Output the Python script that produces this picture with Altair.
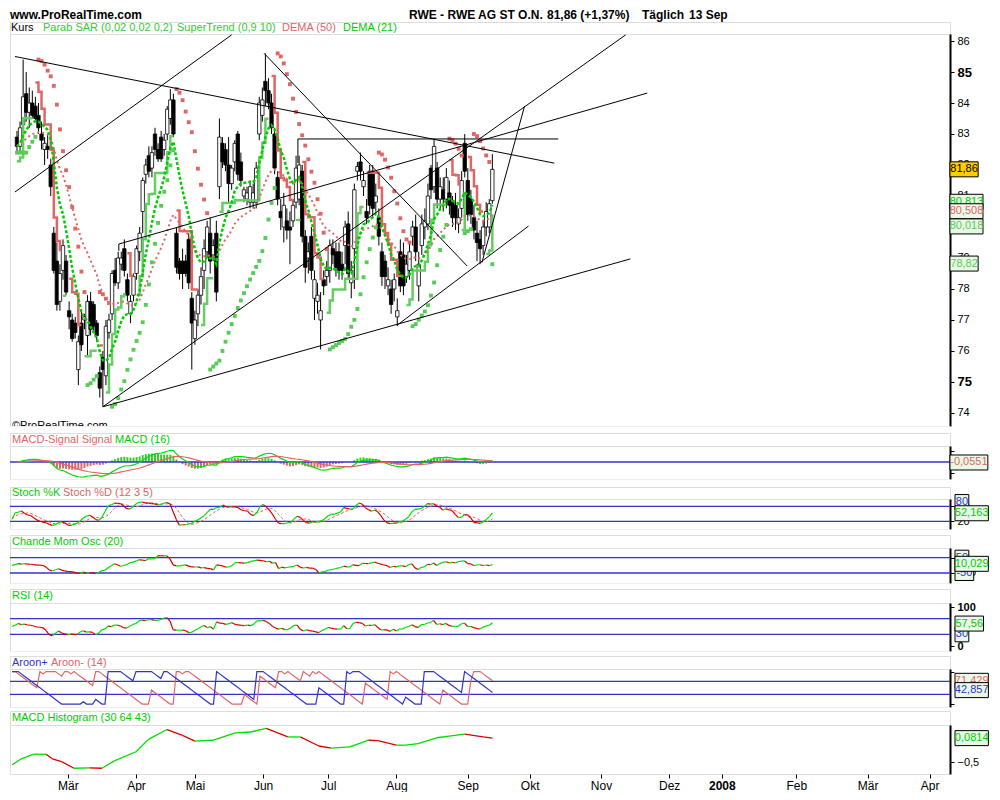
import altair as alt
import numpy as np
import pandas as pd

# ----------------------------------------------------------------- data
# RWE daily candles, 5 Feb 2007 .. 13 Sep 2007 (one entry per trading day)
OPEN = [82.9, 82.6, 83.3, 84.3, 83.7, 84.0, 83.9, 83.6, 83.0, 82.5,
        82.6, 82.0, 79.8, 78.9, 77.6, 78.6, 78.9, 77.3, 77.0, 76.9,
        75.4, 76.9, 77.0, 76.5, 77.6, 77.5, 76.9, 75.3, 75.8, 75.2,
        76.6, 77.2, 78.6, 78.2, 78.8, 79.3, 78.3, 77.2, 77.8, 78.5,
        79.2, 80.5, 81.7, 82.3, 81.9, 83.0, 82.5, 82.9, 82.5, 83.0,
        83.5, 84.1, 79.8, 78.9, 78.9, 78.9, 79.6, 77.7, 76.4, 77.2,
        77.8, 78.6, 79.2, 79.8, 79.1, 79.8, 81.3, 82.7, 82.5, 82.0,
        81.4, 82.1, 83.0, 82.1, 81.0, 80.9, 80.8, 80.8, 80.8, 83.0,
        83.6, 84.7, 84.4, 84.0, 83.0, 81.6, 80.5, 80.0, 80.2, 80.0,
        80.2, 80.8, 80.9, 81.8, 79.7, 79.0, 79.7, 77.7, 77.6, 77.0,
        78.3, 78.4, 78.6, 79.3, 79.2, 79.2, 78.8, 79.4, 80.1, 78.2,
        79.3, 81.8, 82.1, 81.3, 80.5, 81.8, 81.8, 80.8, 80.3, 79.2,
        78.9, 78.1, 78.0, 78.0, 77.1, 79.2, 79.1, 78.4, 78.6, 79.7,
        80.0, 78.1, 79.4, 80.0, 80.1, 81.9, 81.3, 81.9, 80.9, 81.2,
        80.9, 81.1, 80.8, 80.7, 80.1, 80.6, 82.7, 81.5, 80.9, 80.3,
        79.8, 79.6, 79.4, 80.0, 80.0, 80.85]
HIGH = [83.1, 83.4, 85.4, 85.0, 84.5, 84.4, 84.2, 84.0, 83.4, 82.9,
        83.0, 82.2, 80.0, 79.5, 78.8, 79.6, 79.1, 77.6, 77.2, 77.1,
        76.5, 77.3, 77.2, 77.8, 77.9, 77.6, 77.0, 75.5, 76.0, 77.0,
        77.2, 78.6, 79.0, 79.2, 79.2, 79.6, 78.5, 77.8, 78.5, 79.4,
        80.0, 81.6, 82.2, 82.6, 82.6, 83.2, 82.7, 83.1, 83.0, 83.9,
        84.45, 84.3, 80.0, 79.0, 79.3, 79.1, 79.8, 77.9, 77.3, 78.0,
        78.7, 79.6, 80.2, 80.3, 79.6, 80.2, 83.5, 82.9, 82.7, 82.9,
        82.0, 82.8, 83.1, 82.4, 81.3, 81.3, 81.5, 81.4, 82.1, 84.2,
        84.5, 85.6, 84.8, 84.3, 83.2, 81.8, 80.9, 81.1, 80.6, 80.5,
        80.9, 82.3, 82.3, 82.0, 79.9, 79.5, 80.0, 78.6, 78.2, 77.9,
        78.6, 78.9, 79.6, 79.6, 79.5, 79.5, 79.2, 80.2, 80.5, 78.9,
        81.4, 82.1, 82.4, 81.8, 80.9, 82.0, 82.0, 81.4, 80.6, 79.5,
        79.1, 78.7, 78.3, 78.5, 77.7, 79.6, 79.5, 79.1, 79.5, 80.2,
        80.4, 79.2, 80.4, 80.6, 81.4, 82.0, 82.85, 82.1, 81.6, 81.6,
        81.9, 81.5, 81.0, 81.1, 80.6, 81.8, 83.0, 81.9, 81.2, 80.7,
        80.2, 79.9, 80.2, 80.8, 80.9, 82.35]
LOW = [82.4, 82.4, 83.2, 83.4, 83.2, 83.5, 83.4, 83.0, 82.5, 82.0,
       82.2, 81.0, 78.5, 77.3, 77.3, 78.3, 77.8, 76.7, 76.3, 76.4,
       74.9, 76.0, 76.7, 75.8, 76.5, 76.6, 76.3, 74.5, 74.2, 74.9,
       76.4, 77.0, 78.1, 78.0, 78.6, 78.4, 77.6, 76.9, 77.6, 78.3,
       78.9, 79.8, 81.4, 81.6, 81.6, 82.3, 82.1, 82.1, 82.3, 82.8,
       83.3, 82.9, 78.5, 78.3, 78.0, 78.4, 78.0, 75.4, 76.2, 76.8,
       77.5, 78.0, 79.0, 78.5, 78.9, 77.6, 80.9, 81.9, 81.8, 80.8,
       81.2, 81.8, 81.5, 81.3, 80.8, 80.7, 80.6, 80.6, 80.6, 82.8,
       83.4, 83.9, 83.8, 83.0, 81.7, 80.7, 79.9, 79.5, 79.6, 78.8,
       80.0, 80.6, 80.7, 79.5, 78.2, 78.5, 78.3, 77.0, 77.2, 76.05,
       77.8, 78.1, 78.2, 78.8, 78.4, 78.3, 78.3, 78.8, 78.3, 77.7,
       78.0, 81.5, 81.5, 81.0, 80.1, 80.4, 80.3, 80.5, 79.4, 78.1,
       78.0, 77.8, 77.2, 77.6, 76.8, 77.9, 77.8, 78.2, 78.3, 79.4,
       78.9, 77.6, 79.1, 79.6, 79.9, 80.9, 81.1, 80.6, 80.6, 80.5,
       80.6, 80.4, 80.0, 79.9, 79.8, 80.3, 81.6, 80.2, 80.1, 79.6,
       78.9, 78.8, 79.1, 79.7, 79.8, 80.75]
CLOSE = [82.6, 83.2, 84.2, 83.7, 84.0, 83.6, 83.5, 83.2, 82.8, 82.7,
         82.5, 81.3, 78.6, 77.5, 78.5, 79.4, 77.9, 77.1, 76.4, 76.6,
         76.3, 76.2, 77.1, 77.6, 76.7, 76.8, 76.5, 74.8, 75.4, 76.8,
         77.0, 78.5, 78.2, 79.0, 79.0, 78.6, 77.8, 77.6, 78.4, 79.3,
         79.8, 81.5, 82.0, 81.8, 82.4, 82.5, 82.2, 82.2, 82.8, 83.8,
         84.1, 83.0, 78.7, 78.5, 78.5, 78.5, 78.2, 76.9, 77.0, 77.8,
         78.4, 79.3, 80.0, 78.9, 79.4, 77.9, 82.9, 82.1, 82.0, 81.4,
         81.9, 82.7, 81.7, 81.5, 81.2, 81.1, 81.3, 81.1, 81.9, 84.0,
         84.1, 84.4, 84.0, 83.2, 81.9, 80.9, 80.3, 80.7, 79.9, 79.9,
         80.7, 81.9, 82.0, 79.7, 78.7, 79.2, 78.6, 78.3, 77.8, 77.3,
         78.1, 78.6, 79.4, 79.1, 78.7, 78.6, 78.6, 80.0, 78.5, 78.6,
         81.2, 81.95, 81.8, 81.5, 80.3, 80.7, 80.6, 81.0, 79.7, 78.4,
         78.4, 78.3, 77.5, 78.3, 77.3, 78.1, 78.1, 78.8, 79.2, 80.0,
         79.2, 78.8, 80.1, 80.2, 81.0, 81.2, 82.6, 80.9, 81.3, 80.9,
         81.6, 80.7, 80.3, 80.3, 80.3, 81.5, 81.8, 80.4, 80.4, 79.9,
         79.5, 79.3, 80.0, 80.5, 80.75, 81.86]

# month ticks: bar index of the first trading day of each month, and labels
MONTH_IDX = [18, 40, 59, 81, 102, 124, 147, 167, 190, 212, 229, 253, 276, 296]
MONTH_LAB = ["Mär", "Apr", "Mai", "Jun", "Jul", "Aug", "Sep", "Okt", "Nov",
             "Dez", "2008", "Feb", "Mär", "Apr"]
PRICE_TICKS = [74, 75, 76, 77, 78, 79, 80, 81, 82, 83, 84, 85, 86]

# hand-drawn trend lines (bar index, price) -> (bar index, price)
TL_I1 = [-0.65, -0.65, 28.0, 28.0, 33.2, 33.2, 80.6, 124.2, 91.6, 91.6, 151.6]
TL_P1 = [85.50, 81.13, 74.2, 74.2, 79.45, 79.45, 85.6, 76.85, 82.84, 82.84, 78.85]
TL_I2 = [175.2, 70.0, 198.5, 200.0, 205.5, 33.2, 146.8, 166.8, 176.5, 91.6, 165.5]
TL_P2 = [82.06, 86.2, 86.2, 78.97, 84.32, 79.23, 78.74, 80.03, 82.84, 82.06, 83.9]

# MACD Histogram (30 64 43)
HIST_I = [0, 3, 7, 11, 13, 16, 20, 25, 29, 33, 40, 44, 50, 55, 59, 65, 72, 77,
          82, 89, 93, 99, 103, 109, 115, 118, 124, 127, 131, 137, 141, 146, 152, 155]
HIST_V = [-0.57, -0.42, -0.31, -0.31, -0.42, -0.49, -0.65, -0.64, -0.65, -0.47,
          -0.25, 0.05, 0.29, 0.15, 0.01, 0.03, 0.21, 0.23, 0.32, 0.11, 0.11,
          -0.11, -0.16, -0.13, 0.03, 0.02, -0.09, -0.09, -0.05, 0.09, 0.13,
          0.18, 0.11, 0.08]

# last-value boxes on the right of each panel (value, text)
MAIN_BOX_V = [80.813, 80.508, 80.018, 78.82, 81.86]
MAIN_BOX_T = ["80,813", "80,508", "80,018", "78,82", "81,86"]
MACD_BOX_V = [-0.0551]
MACD_BOX_T = ["-0,0551"]
STOCH_BOX_V = [97.0, 52.163]
STOCH_BOX_T = ["80", "52,163"]
CMO_BOX_V = [50.0, -50.0, 10.029]
CMO_BOX_T = ["50", "-50", "10,029"]
RSI_BOX_V = [30.0, 57.56]
RSI_BOX_T = ["30", "57,56"]
AROON_BOX_V = [71.429, 42.857]
AROON_BOX_T = ["71,429", "42,857"]
HIST_BOX_V = [0.0814]
HIST_BOX_T = ["0,0814"]

# ----------------------------------------------------------------- style
FONT = "Liberation Sans"
BG = "#eaf9e7"
RED = "#e06666"
GRN = "#00cc00"
LGRN = "#55cc55"
BLUE = "#3333cc"
UPC = "#00dd00"
DNC = "#dd0000"
W = 940
X0, X1 = -0.65, 302.6
PX = W / (X1 - X0)

o = np.array(OPEN); h = np.array(HIGH); l = np.array(LOW); c = np.array(CLOSE)
n = len(c)
idx = np.arange(n)
cs = pd.Series(c)


def ema(s, span):
    return s.ewm(span=span, adjust=False).mean()


def dema(s, p):
    e1 = ema(s, p)
    return 2 * e1 - ema(e1, p)


def psar(hh, ll, a0=0.02, st=0.02, amax=0.2):
    out = np.zeros(len(hh)); up = np.zeros(len(hh), bool)
    trend = True; sar = ll[0]; ep = hh[0]; af = a0
    out[0] = sar; up[0] = True
    for i in range(1, len(hh)):
        sar = sar + af * (ep - sar)
        if trend:
            sar = min(sar, ll[i - 1], ll[max(i - 2, 0)])
            if ll[i] < sar:
                trend = False; sar = ep; ep = ll[i]; af = a0
            elif hh[i] > ep:
                ep = hh[i]; af = min(af + st, amax)
        else:
            sar = max(sar, hh[i - 1], hh[max(i - 2, 0)])
            if hh[i] > sar:
                trend = True; sar = ep; ep = hh[i]; af = a0
            elif ll[i] < ep:
                ep = ll[i]; af = min(af + st, amax)
        out[i] = sar; up[i] = trend
    return out, up


def supertrend(hh, ll, cc, mult=0.9, period=10):
    pc = np.r_[cc[0], cc[:-1]]
    tr = np.maximum(hh - ll, np.maximum(np.abs(hh - pc), np.abs(ll - pc)))
    atr = pd.Series(tr).ewm(alpha=1 / period, adjust=False).mean().values
    mid = (hh + ll) / 2
    bu = mid + mult * atr; bl = mid - mult * atr
    fu = bu.copy(); fl = bl.copy()
    stv = np.zeros(len(cc)); up = np.zeros(len(cc), bool)
    trend = True
    for i in range(len(cc)):
        if i > 0:
            fu[i] = bu[i] if (bu[i] < fu[i - 1] or cc[i - 1] > fu[i - 1]) else fu[i - 1]
            fl[i] = bl[i] if (bl[i] > fl[i - 1] or cc[i - 1] < fl[i - 1]) else fl[i - 1]
            if trend and cc[i] < fl[i]:
                trend = False
            elif (not trend) and cc[i] > fu[i]:
                trend = True
        stv[i] = fl[i] if trend else fu[i]
        up[i] = trend
    return stv, up


# indicators computed from the candles
sar, sar_up = psar(h, l)
st, st_up = supertrend(h, l, c)
d50 = dema(cs, 50).values
d21 = dema(cs, 21).values
macd = (ema(cs, 12) - ema(cs, 26))
sig = ema(macd, 16)
mh = (macd - sig).values
macd = macd.values; sig = sig.values
hh12 = pd.Series(h).rolling(12, min_periods=1).max()
ll12 = pd.Series(l).rolling(12, min_periods=1).min()
fk = (100 * (cs - ll12) / (hh12 - ll12)).fillna(50)
stk = fk.rolling(3, min_periods=1).mean()
std_ = stk.rolling(5, min_periods=1).mean().values
stk = stk.values
dif = np.diff(c, prepend=c[0])
upm = np.clip(dif, 0, None); dnm = np.clip(-dif, 0, None)
avg = np.mean(np.abs(dif[1:])) / 2
cmo = []
for i in range(n):
    lo = max(1, i - 19)
    su = upm[lo:i + 1].sum(); sd = dnm[lo:i + 1].sum()
    pad = (20 - (i + 1 - lo)) * avg
    cmo.append(100 * (su - sd) / (su + sd + 2 * pad))
rsi = []
g = avg; ls = avg
for i in range(n):
    if i > 0:
        g = (g * 13 + upm[i]) / 14; ls = (ls * 13 + dnm[i]) / 14
    rsi.append(100 - 100 / (1 + g / ls))
aup = []; adn = []
for i in range(n):
    lo = max(0, i - 14)
    aup.append(100 * (14 - int(np.argmax(h[lo:i + 1][::-1]))) / 14)
    adn.append(100 * (14 - int(np.argmin(l[lo:i + 1][::-1]))) / 14)

ONE = pd.DataFrame({"d": [0]})


def encs(ydom, yaxis, xaxis=None):
    xsc = alt.Scale(domain=[X0, X1], nice=False, zero=False)
    ysc = alt.Scale(domain=list(ydom), nice=False, zero=False)

    def X(f):
        return alt.X(f, type="quantitative", scale=xsc, axis=xaxis)

    def Y(f):
        return alt.Y(f, type="quantitative", scale=ysc, axis=yaxis)
    return X, Y


def raxis(values, show=True, expr=None, bold=False):
    kw = dict(orient="right", values=values, title=None, grid=False, tickSize=4,
              tickColor="black", domainColor="black", domainWidth=2,
              labelColor="black", labelFont=FONT, labelFontSize=11,
              labelPadding=3, labelOverlap=False, labels=show)
    if expr:
        kw["labelExpr"] = expr
    if bold:
        kw["labelFontWeight"] = "bold"
    return alt.Axis(**kw)


def segs(xv, yv):
    xv = list(xv); yv = list(yv)
    return pd.DataFrame({"x": xv[:-1], "y": yv[:-1], "x2": xv[1:], "y2": yv[1:],
                         "c": [UPC if b >= a else DNC for a, b in zip(yv[:-1], yv[1:])]})


def seg_layer(df, X, Y, w=1.2):
    return alt.Chart(df).mark_rule(strokeWidth=w).encode(
        x=X("x"), x2="x2", y=Y("y"), y2="y2", color=alt.Color("c:N", scale=None))


def levels(vals, X, Y):
    return alt.Chart(pd.DataFrame({"lv": vals})).mark_rule(color=BLUE, strokeWidth=1.3).encode(y=Y("lv"))


def boxes(vals, texts, tcols, fills, ydom, ph, X, Y):
    dv = (ydom[1] - ydom[0]) / ph
    out = []
    for v, t, tc, f in zip(vals, texts, tcols, fills):
        w = 4 + 4.9 * len(t)
        df = pd.DataFrame([dict(bx0=X1 + 5 / PX, bx1=X1 + (5 + w) / PX,
                                bxc=X1 + (5 + w / 2) / PX, by0=v - 7.5 * dv,
                                by1=v + 7.5 * dv, v=v, t=t)])
        out.append(alt.Chart(df).mark_rect(stroke="black", strokeWidth=1, fill=f).encode(
            x=X("bx0"), x2="bx1", y=Y("by0"), y2="by1"))
        out.append(alt.Chart(df).mark_text(font=FONT, fontSize=11, baseline="middle",
                                           color=tc).encode(x=X("bxc"), y=Y("v"), text="t:N"))
    return out


def header(hh, items):
    lays = []
    for t, x, col, size, weight, yv in items:
        lays.append(alt.Chart(ONE).mark_text(text=t, font=FONT, fontSize=size, fontWeight=weight,
                                             align="left", baseline="middle", color=col)
                    .encode(x=alt.value(x), y=alt.value(yv)))
    return alt.layer(*lays).properties(width=W, height=hh)


def spacer(hgt):
    return alt.Chart(ONE).mark_text(text="").encode(
        x=alt.value(0), y=alt.value(0)).properties(
        width=W, height=hgt, view=alt.ViewBackground(stroke="transparent", fill="white"))


# ------------------------------------------------------------ main panel
MH, MP = 12, 392
mdom = (73.58, 86.226)
X, Y = encs(mdom, alt.Axis(
    orient="right", values=PRICE_TICKS, title=None, grid=False, tickSize=4,
    tickColor="black", domainColor="black", domainWidth=2, labelColor="black",
    labelFont=FONT, labelPadding=3, labelOverlap=False,
    labelFontSize={"condition": {"test": "datum.value % 5 == 0", "value": 13}, "value": 11},
    labelFontWeight={"condition": {"test": "datum.value % 5 == 0", "value": "bold"}, "value": "normal"}))

top = np.maximum(o, c); bot = np.minimum(o, c)
top = np.where(top - bot < 0.04, bot + 0.04, top)
dfc = pd.DataFrame({"i": idx, "h": h, "l": l, "top": top, "bot": bot,
                    "f": np.where(c >= o, "white", "black")})
wick = alt.Chart(dfc).mark_rule(color="black", strokeWidth=1).encode(x=X("i"), y=Y("l"), y2="h")
body = alt.Chart(dfc).mark_bar(size=3.4, stroke="black", strokeWidth=0.8).encode(
    x=X("i"), y=Y("bot"), y2="top", fill=alt.Fill("f:N", scale=None))

run = np.cumsum(np.r_[0, (st_up[1:] != st_up[:-1]).astype(int)])
dfst = pd.DataFrame({"i": idx, "v": st, "run": run, "col": np.where(st_up, "#66cc66", RED)})
stl = alt.Chart(dfst).mark_line(interpolate="step-after", strokeWidth=2.5).encode(
    x=X("i"), y=Y("v"), detail="run:N", color=alt.Color("col:N", scale=None))
dfd = pd.DataFrame({"i": idx, "d50": d50, "d21": d21})
l50 = alt.Chart(dfd).mark_line(color=RED, strokeWidth=2, strokeDash=[2, 3]).encode(x=X("i"), y=Y("d50"))
l21 = alt.Chart(dfd).mark_line(color=GRN, strokeWidth=2.5, strokeDash=[3, 2]).encode(x=X("i"), y=Y("d21"))
dfs = pd.DataFrame({"i": idx, "v": sar, "col": np.where(sar_up, LGRN, RED)})
sarl = alt.Chart(dfs).mark_square(size=15, opacity=1).encode(
    x=X("i"), y=Y("v"), color=alt.Color("col:N", scale=None))
dft = pd.DataFrame({"x": TL_I1, "y": TL_P1, "x2": TL_I2, "y2": TL_P2})
tls = alt.Chart(dft).mark_rule(color="black", strokeWidth=1).encode(x=X("x"), x2="x2", y=Y("y"), y2="y2")
copy = alt.Chart(ONE).mark_text(text="©ProRealTime.com", font=FONT, fontSize=11, align="left",
                                baseline="alphabetic", clip=True, color="black").encode(
    x=alt.value(2), y=alt.value(MP + 3))
mb = boxes(MAIN_BOX_V, MAIN_BOX_T, [GRN, RED, LGRN, LGRN, "black"],
           [BG, BG, BG, BG, "#ffcc00"], mdom, MP, X, Y)
main_plot = alt.layer(wick, body, stl, l50, l21, sarl, tls, copy, *mb).properties(width=W, height=MP)
main_hdr = header(MH, [
    ("www.ProRealTime.com", 0, "black", 12, "bold", -7),
    ("RWE - RWE AG ST O.N.", 399, "black", 12, "bold", -7),
    ("81,86 (+1,37%)", 537, "black", 12, "bold", -7),
    ("Täglich", 632, "black", 12, "bold", -7),
    ("13 Sep", 679, "black", 12, "bold", -7),
    ("Kurs", 1, "black", 11, "normal", MH / 2),
    ("Parab SAR (0,02 0,02 0,2)", 33, "#33cc33", 11, "normal", MH / 2),
    ("SuperTrend (0,9 10)", 167, "#33cc33", 11, "normal", MH / 2),
    ("DEMA (50)", 272, RED, 11, "normal", MH / 2),
    ("DEMA (21)", 333, GRN, 11, "normal", MH / 2),
])

# ------------------------------------------------------------ MACD panel
AH, AP = 13, 33
m = max(np.abs(macd).max(), np.abs(sig).max(), np.abs(mh).max()) * 1.05
adom = (-m * 17 / 16, m)
X, Y = encs(adom, raxis([-0.66 * m, 0.66 * m], show=False))
dfm = pd.DataFrame({"i": idx, "macd": macd, "sig": sig, "mh": mh,
                    "col": np.where(mh >= 0, "#33cc33", RED)})
mbars = alt.Chart(dfm).mark_bar(size=2).encode(x=X("i"), y=Y("mh"), y2=alt.datum(0),
                                               color=alt.Color("col:N", scale=None))
mline = alt.Chart(dfm).mark_line(color=UPC, strokeWidth=1.2).encode(x=X("i"), y=Y("macd"))
sline = alt.Chart(dfm).mark_line(color=RED, strokeWidth=1.2).encode(x=X("i"), y=Y("sig"))
macd_plot = alt.layer(mbars, levels([0], X, Y), mline, sline,
                      *boxes(MACD_BOX_V, MACD_BOX_T, [RED], [BG], adom, AP, X, Y)).properties(width=W, height=AP)
macd_hdr = header(AH, [("MACD-Signal Signal", 2, RED, 11, "normal", AH / 2),
                       ("MACD (16)", 105, GRN, 11, "normal", AH / 2)])

# ------------------------------------------------------------ Stochastic
SH, SP = 12, 30
sdom = (-10.8, 109.2)
X, Y = encs(sdom, raxis([20, 80]))
dfk = pd.DataFrame({"i": idx, "d": std_})
dline = alt.Chart(dfk).mark_line(color=RED, strokeWidth=1, strokeDash=[3, 2]).encode(x=X("i"), y=Y("d"))
stoch_plot = alt.layer(levels([20, 80], X, Y), dline, seg_layer(segs(idx, stk), X, Y),
                       *boxes(STOCH_BOX_V, STOCH_BOX_T, [BLUE, GRN], [BG, BG], sdom, SP, X, Y)
                       ).properties(width=W, height=SP)
stoch_hdr = header(SH, [("Stoch %K", 2, GRN, 11, "normal", SH / 2),
                        ("Stoch %D (12 3 5)", 53, RED, 11, "normal", SH / 2)])

# ------------------------------------------------------------ Chande
CH, CP = 13, 35
cdom = (-115.4, 113.4)
X, Y = encs(cdom, raxis([-50, 50]))
cmo_plot = alt.layer(levels([-50, 50], X, Y), seg_layer(segs(idx, cmo), X, Y),
                     *boxes(CMO_BOX_V, CMO_BOX_T, [BLUE, BLUE, GRN], [BG, BG, BG], cdom, CP, X, Y)
                     ).properties(width=W, height=CP)
cmo_hdr = header(CH, [("Chande Mom Osc (20)", 2, GRN, 11, "normal", CH / 2)])

# ------------------------------------------------------------ RSI
RH, RP = 14, 48
rdom = (-12.8, 110.3)
X, Y = encs(rdom, raxis([0, 100], bold=True))
rsi_plot = alt.layer(levels([30, 70], X, Y), seg_layer(segs(idx, rsi), X, Y),
                     *boxes(RSI_BOX_V, RSI_BOX_T, [BLUE, GRN], [BG, BG], rdom, RP, X, Y)
                     ).properties(width=W, height=RP)
rsi_hdr = header(RH, [("RSI (14)", 2, GRN, 11, "normal", RH / 2)])

# ------------------------------------------------------------ Aroon
OH, OP = 13, 38
odom = (-9.1, 107.8)
X, Y = encs(odom, raxis([0, 100], show=False))
dfa = pd.DataFrame({"i": idx, "up": aup, "dn": adn})
aupl = alt.Chart(dfa).mark_line(color=BLUE, strokeWidth=1.2).encode(x=X("i"), y=Y("up"))
adnl = alt.Chart(dfa).mark_line(color=RED, strokeWidth=1.2).encode(x=X("i"), y=Y("dn"))
aroon_plot = alt.layer(levels([30, 70], X, Y), adnl, aupl,
                       *boxes(AROON_BOX_V, AROON_BOX_T, [RED, BLUE], [BG, BG], odom, OP, X, Y)
                       ).properties(width=W, height=OP)
aroon_hdr = header(OH, [("Aroon+", 2, BLUE, 11, "normal", OH / 2),
                        ("Aroon- (14)", 41, RED, 11, "normal", OH / 2)])

# ------------------------------------------------------------ MACD histogram (30 64 43)
HH_, HP = 14, 49
hdom = (-0.79, 0.40)
lab_expr = ("[" + ",".join("'" + s + "'" for s in MONTH_LAB) + "][indexof(["
            + ",".join(str(v) for v in MONTH_IDX) + "], datum.value)]")
yr = MONTH_IDX[MONTH_LAB.index("2008")]
xaxis = alt.Axis(orient="bottom", values=MONTH_IDX, labelExpr=lab_expr, title=None, grid=False,
                 domain=False, tickSize=4, tickColor="black", labelColor="black", labelFont=FONT,
                 labelFontSize=12, labelPadding=2, labelOverlap=False, labelFlush=False,
                 labelFontWeight={"condition": {"test": "datum.value == %d" % yr, "value": "bold"},
                                  "value": "normal"})
X, Y = encs(hdom, raxis([-0.5], expr="replace(format(datum.value, '.1f'), '.', ',')"), xaxis)
hist_plot = alt.layer(seg_layer(segs(HIST_I, HIST_V), X, Y, 1.3),
                      *boxes(HIST_BOX_V, HIST_BOX_T, [GRN], [BG], hdom, HP, X, Y)
                      ).properties(width=W, height=HP)
hist_hdr = header(HH_, [("MACD Histogram (30 64 43)", 2, GRN, 11, "normal", HH_ / 2)])

chart = alt.vconcat(
    main_hdr, main_plot, spacer(7),
    macd_hdr, macd_plot, spacer(8),
    stoch_hdr, stoch_plot, spacer(6),
    cmo_hdr, cmo_plot, spacer(6),
    rsi_hdr, rsi_plot, spacer(5),
    aroon_hdr, aroon_plot, spacer(4),
    hist_hdr, hist_plot,
    spacing=0, bounds="flush",
).resolve_scale(x="independent", y="independent").properties(
    padding=0, background="white"
).configure_view(stroke="black", strokeWidth=1.2, fill=BG).configure(font=FONT)

chart.save("out.html", embed_options={"renderer": "svg", "actions": False})
